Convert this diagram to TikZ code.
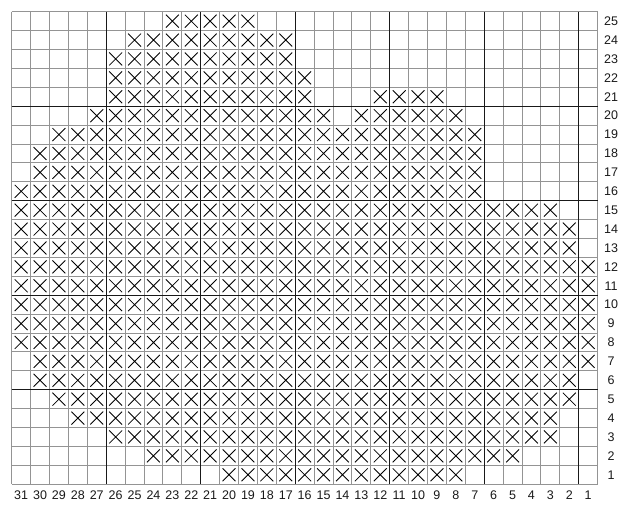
\documentclass[tikz,border=0pt]{standalone}
\usepackage{fontspec}
\setmainfont{Liberation Sans}
\begin{document}
\begin{tikzpicture}[x=1pt,y=-1pt,
  gridline/.style={draw=black!42,line width=0.9pt},
  majorline/.style={draw=black!90,line width=1.3pt},
  xmark/.style={draw=black,line width=0.85pt},
  lbl/.style={font=\fontsize{12.5}{14}\selectfont,inner sep=0pt,text=black!90}]
\useasboundingbox (0,0) rectangle (634,506);
\def\xo{11.7}\def\yo{11.7}\def\s{18.9}
% gray grid
\foreach \i in {0,...,31} \draw[gridline] ({\xo+\i*\s},\yo) -- ({\xo+\i*\s},{\yo+25*\s});
\foreach \j in {0,...,25} \draw[gridline] (\xo,{\yo+\j*\s}) -- ({\xo+31*\s},{\yo+\j*\s});
% major lines
\foreach \i in {5,10,...,30} \draw[majorline] ({\xo+\i*\s},\yo) -- ({\xo+\i*\s},{\yo+25*\s});
\foreach \j in {5,10,15,20} \draw[majorline] (\xo,{\yo+\j*\s}) -- ({\xo+31*\s},{\yo+\j*\s});
% crosses
\foreach \r/\a/\b in {25/23/19,24/25/17,23/26/17,22/26/16,21/26/16,21/12/9,
  20/27/15,20/13/8,19/29/7,18/30/7,17/30/7,16/31/7,15/31/3,14/31/2,13/31/2,
  12/31/1,11/31/1,10/31/1,9/31/1,8/31/1,7/30/1,6/30/2,5/29/2,4/28/3,3/26/3,
  2/24/5,1/20/8}{
  \foreach \c in {\a,...,\b}{
    \pgfmathsetmacro\xl{\xo+(31-\c)*\s+3}
    \pgfmathsetmacro\yt{\yo+(25-\r)*\s+3}
    \pgfmathsetmacro\xr{\xl+\s-6}
    \pgfmathsetmacro\yb{\yt+\s-6}
    \draw[xmark] (\xl,\yt) -- (\xr,\yb) (\xl,\yb) -- (\xr,\yt);
  }
}
% labels
\foreach \r in {1,...,25} \node[lbl] (r\r) at (611,{\yo+(25-\r+0.5)*\s}) {\r};
\foreach \c in {1,...,31} \node[lbl] (c\c) at ({\xo+(31-\c+0.5)*\s},495.5) {\c};
\end{tikzpicture}
\end{document}
